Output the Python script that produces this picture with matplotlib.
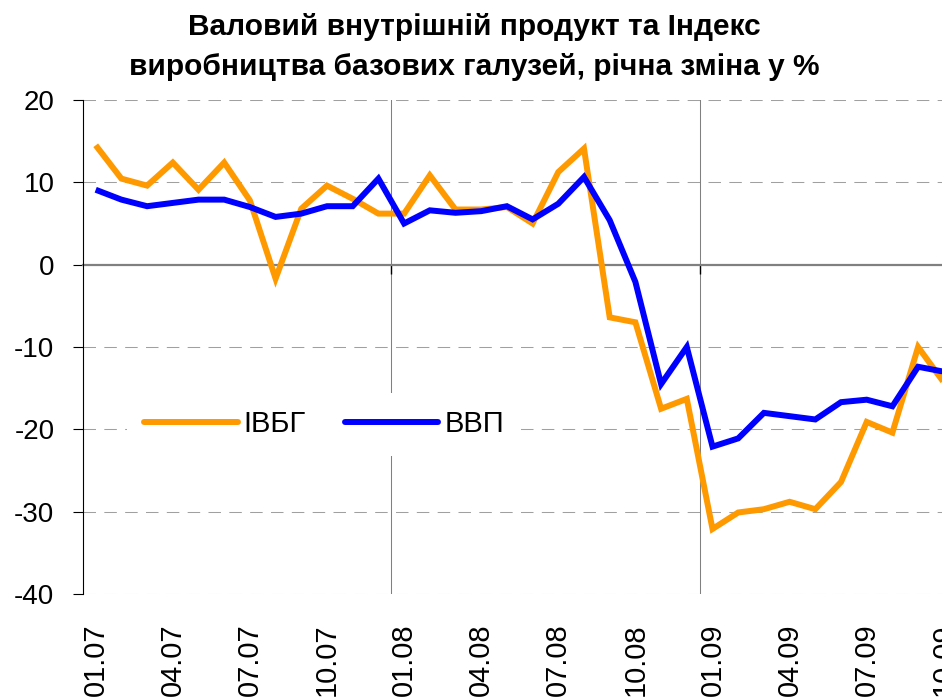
import matplotlib
matplotlib.use("Agg")
import matplotlib.pyplot as plt

plt.rcParams['font.family'] = ['Liberation Sans', 'DejaVu Sans']

# місяці 01.07 ... 10.09
months = [f"{m:02d}.{y:02d}" for y in (7, 8, 9) for m in range(1, 13)][:34]

# Індекс виробництва базових галузей, % р/р
ivbg = [14.5, 10.45, 9.6, 12.4, 9.1, 12.4, 7.8, -1.7, 6.8, 9.6, 8.0, 6.2,
        6.2, 10.85, 6.7, 6.7, 7.0, 5.0, 11.25, 14.1, -6.4, -7.0, -17.5, -16.3,
        -32.1, -30.1, -29.7, -28.8, -29.7, -26.4, -19.1, -20.4, -10.0, -14.3]

# ВВП, % р/р
vvp = [9.1, 7.9, 7.1, 7.5, 7.9, 7.9, 7.0, 5.8, 6.2, 7.1, 7.1, 10.45,
       5.0, 6.6, 6.3, 6.5, 7.1, 5.5, 7.4, 10.65, 5.4, -2.1, -14.5, -10.0,
       -22.1, -21.1, -18.0, -18.4, -18.8, -16.7, -16.4, -17.2, -12.4, -13.0]

yticks = [20, 10, 0, -10, -20, -30, -40]

W, H = 942, 700
fig = plt.figure(figsize=(W / 100, H / 100), dpi=100)
# вісь ширша за картинку: праворуч графік обрізаний, як в оригіналі
n_cat = 36
ax = fig.add_axes([82.85 / W, 106 / H, n_cat * 25.7 / W, 494 / H])

x = list(range(len(months)))
ax.plot(x, ivbg, color='#FF9900', lw=4.3, label='ІВБГ', zorder=3,
        solid_joinstyle='miter', solid_capstyle='butt')
ax.plot(x, vvp, color='#0000FF', lw=4.3, label='ВВП', zorder=3,
        solid_joinstyle='miter', solid_capstyle='butt')

ax.set_xlim(-0.5, n_cat - 0.5)
ax.set_ylim(-40, 20)

# горизонтальна сітка пунктиром
for v in yticks:
    if v != 0:
        ax.axhline(v, color='#A0A0A0', lw=0.75, ls=(0, (12, 8)), zorder=1)
# межі років
for xb in (11.5, 23.5):
    ax.axvline(xb, color='#808080', lw=0.75, zorder=1)

ax.set_yticks(yticks)
ax.set_yticklabels([str(v) for v in yticks])
ax.tick_params(axis='y', direction='out', length=7.5, width=0.8, pad=13,
               labelsize=20, colors='black')

ax.spines['top'].set_visible(False)
ax.spines['right'].set_visible(False)
ax.spines['left'].set_color('black')
ax.spines['left'].set_linewidth(0.8)
ax.spines['bottom'].set_position(('data', 0))
ax.spines['bottom'].set_color('#808080')
ax.spines['bottom'].set_linewidth(1.6)
ax.spines['bottom'].set_zorder(2)

ax.set_xticks([11.5, 23.5])
ax.set_xticklabels([])
ax.tick_params(axis='x', direction='out', length=6.5, width=1, color='black')

# підписи місяців унизу
sec = ax.secondary_xaxis(0)
sec.set_xticks(x[::3], labels=months[::3])
sec.tick_params(length=0, pad=21, labelsize=21, labelrotation=90)
sec.spines['bottom'].set_visible(False)

leg = ax.legend(loc='center', bbox_to_anchor=(324 / W, 276 / H),
                bbox_transform=fig.transFigure, ncol=2, fontsize=21,
                frameon=True, fancybox=False, framealpha=1, edgecolor='none',
                facecolor='white', handlelength=3.2, handletextpad=0.2,
                columnspacing=1.35, borderpad=0.6)
for line in leg.get_lines():
    line.set_solid_capstyle('round')

fig.text(474 / W, 1 - 35 / H, 'Валовий внутрішній продукт та Індекс',
         ha='center', va='baseline', fontsize=21.5, fontweight='bold')
fig.text(474 / W, 1 - 75 / H, 'виробництва базових галузей, річна зміна у %',
         ha='center', va='baseline', fontsize=21.5, fontweight='bold')

fig.savefig('out.png', dpi=100)
